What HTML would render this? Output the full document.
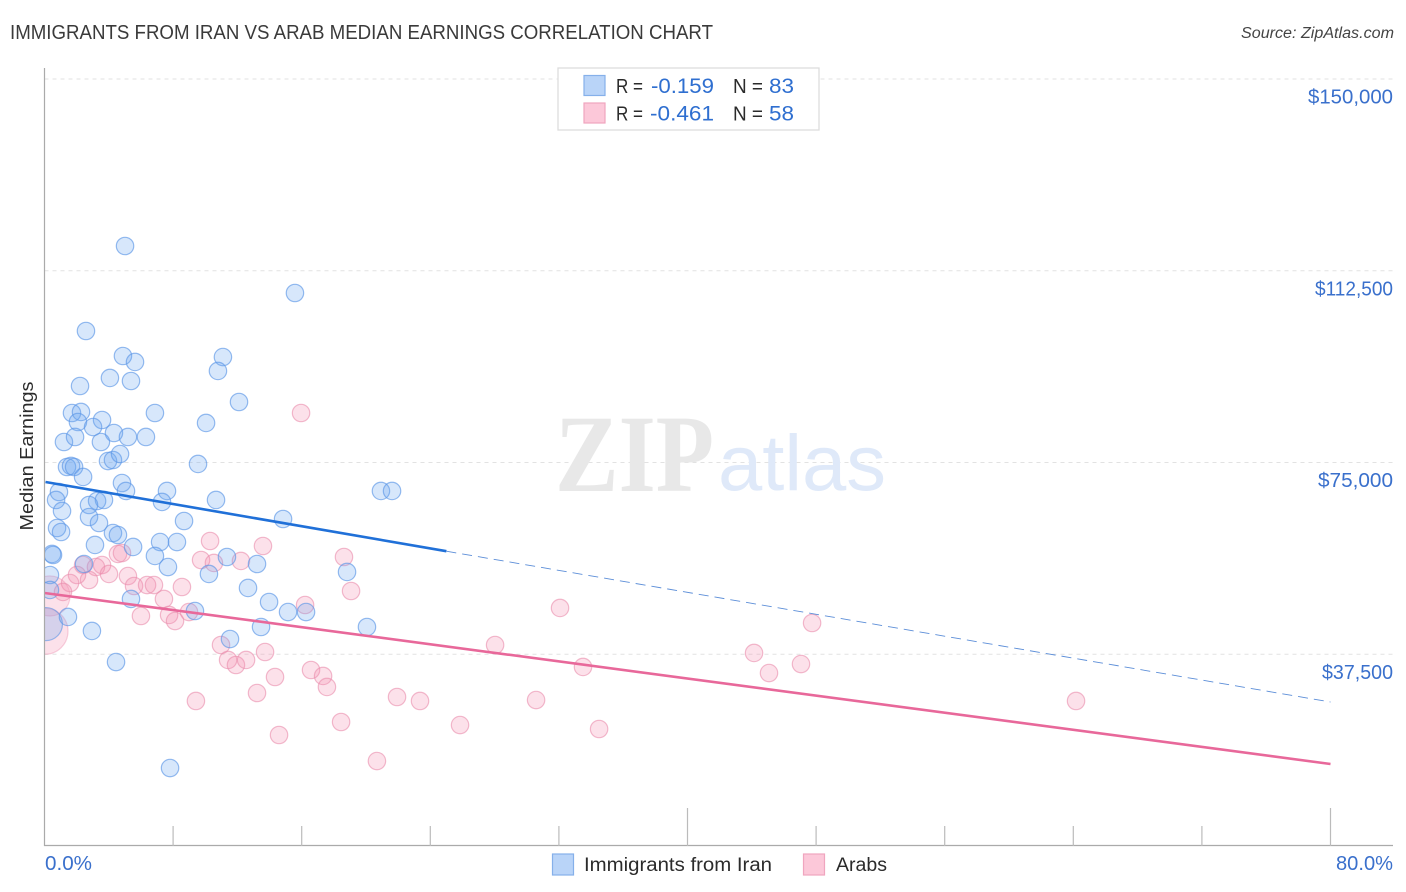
<!DOCTYPE html>
<html lang="en">
<head>
<meta charset="utf-8">
<title>Immigrants from Iran vs Arab Median Earnings Correlation Chart</title>
<style>
html,body{margin:0;padding:0;background:#fff;}
body{width:1406px;height:892px;overflow:hidden;}
svg{display:block;font-family:"Liberation Sans",sans-serif;}
</style>
</head>
<body>
<svg id="chart" xmlns="http://www.w3.org/2000/svg" width="1406" height="892" viewBox="0 0 1406 892">
  <defs>
    <clipPath id="plot-clip"><rect x="45" y="60" width="1350" height="786"/></clipPath>
  </defs>
  <rect width="1406" height="892" fill="#fff"/>
  <text x="10" y="39" font-size="20" fill="#3a3a3a" textLength="703" lengthAdjust="spacingAndGlyphs">IMMIGRANTS FROM IRAN VS ARAB MEDIAN EARNINGS CORRELATION CHART</text>
  <text x="1241" y="38" font-size="15.5" font-style="italic" fill="#444" textLength="153" lengthAdjust="spacingAndGlyphs">Source: ZipAtlas.com</text>

  <g id="grid"></g>

  <g>
    <text x="555" y="491" font-family="'Liberation Serif',serif" font-weight="bold" font-size="110" fill="#e8e8e8" textLength="159" lengthAdjust="spacingAndGlyphs">ZIP</text>
    <text x="718" y="490" font-size="79" fill="#dfe9f9" textLength="168" lengthAdjust="spacingAndGlyphs">atlas</text>
  </g>

  <g id="arab-points" clip-path="url(#plot-clip)"></g>
  <g id="iran-points" clip-path="url(#plot-clip)"></g>
  <g id="trends"></g>

  <rect x="0" y="60" width="44" height="790" fill="#fff"/>

  <g id="axes">
    <line x1="44.5" y1="68" x2="44.5" y2="846" stroke="#aaa" stroke-width="1.2"/>
    <line x1="44" y1="845.5" x2="1393" y2="845.5" stroke="#aaa" stroke-width="1.2"/>
  </g>
  <g id="y-labels"></g>
  <g id="x-labels"></g>

  <text transform="translate(33,456) rotate(-90)" font-size="18" fill="#2b2b2b" text-anchor="middle" textLength="149" lengthAdjust="spacingAndGlyphs">Median Earnings</text>

  <g>
    <rect x="558" y="68" width="261" height="62" fill="#fff" stroke="#ddd" stroke-width="1.3"/>
    <rect x="584" y="75.5" width="21" height="20" fill="#b9d4f8" stroke="#85b0ea" stroke-width="1.2"/>
    <rect x="584" y="103" width="21" height="20" fill="#fcc8d9" stroke="#f0a5bf" stroke-width="1.2"/>
    <text x="616" y="93" font-size="20" fill="#2b2b2b" textLength="27" lengthAdjust="spacingAndGlyphs">R =</text>
    <text x="651" y="93" font-size="21" fill="#2f6fd0" textLength="63" lengthAdjust="spacingAndGlyphs">-0.159</text>
    <text x="733" y="93" font-size="20" fill="#2b2b2b" textLength="30" lengthAdjust="spacingAndGlyphs">N =</text>
    <text x="769" y="93" font-size="21" fill="#2f6fd0" textLength="25" lengthAdjust="spacingAndGlyphs">83</text>
    <text x="616" y="120.5" font-size="20" fill="#2b2b2b" textLength="27" lengthAdjust="spacingAndGlyphs">R =</text>
    <text x="650" y="120.5" font-size="21" fill="#2f6fd0" textLength="64" lengthAdjust="spacingAndGlyphs">-0.461</text>
    <text x="733" y="120.5" font-size="20" fill="#2b2b2b" textLength="30" lengthAdjust="spacingAndGlyphs">N =</text>
    <text x="769" y="120.5" font-size="21" fill="#2f6fd0" textLength="25" lengthAdjust="spacingAndGlyphs">58</text>
  </g>

  <g>
    <rect x="552.5" y="854" width="21" height="21" fill="#b9d4f8" stroke="#85b0ea" stroke-width="1.2"/>
    <text x="584" y="871" font-size="19" fill="#2b2b2b" textLength="188" lengthAdjust="spacingAndGlyphs">Immigrants from Iran</text>
    <rect x="803.5" y="854" width="21" height="21" fill="#fcc8d9" stroke="#f0a5bf" stroke-width="1.2"/>
    <text x="836" y="871" font-size="19" fill="#2b2b2b" textLength="51" lengthAdjust="spacingAndGlyphs">Arabs</text>
  </g>
</svg>
<script>
// ---- Data ----
const yTickValues = [37500, 75000, 112500, 150000];
const yTickLabels = ["$37,500", "$75,000", "$112,500", "$150,000"];
const xTickValues = [8, 16, 24, 32, 40, 48, 56, 64, 72, 80];
const xMajorTicks = [40, 80];
const xEndValues = [0, 80];
const xEndLabels = ["0.0%", "80.0%"];

const iranPct = [5.01,15.58,2.58,4.88,5.63,11.10,10.79,2.21,4.07,5.38,12.10,6.87,1.71,2.27,3.58,2.08,3.02,4.32,10.05,1.21,1.90,3.51,5.19,6.31,1.40,1.65,1.84,3.95,4.26,4.70,9.55,2.40,4.82,5.07,0.90,7.62,0.72,3.27,3.70,7.31,10.67,20.93,21.62,1.09,2.77,2.77,14.84,3.39,8.68,0.78,1.03,4.26,4.57,3.14,5.51,7.19,8.24,0.47,0.53,6.87,11.35,13.22,2.46,7.68,10.23,18.82,0.34,0.34,12.66,5.38,13.97,9.36,15.15,16.27,1.46,2.95,13.47,20.06,11.54,4.45,7.81];
const iranEarnings = [117340,108150,100720,95830,94660,95630,92900,89960,91530,90940,86830,84680,84680,84880,83310,82920,81940,80770,82730,79010,79990,79010,79990,79990,74120,74320,74120,75290,75490,76660,74710,72170,70990,69430,69230,69430,67670,67470,67670,67280,67670,69430,69430,65520,66690,64340,63950,63170,63560,62190,61410,61210,60820,58870,58480,59450,59450,57110,56910,56720,56520,55150,55150,54560,53200,53590,53000,50070,50460,48310,47720,45960,45760,45760,44790,42050,42830,42830,40480,35980,15250];
const iranClusterPct = [0.09];
const iranClusterEarnings = [43400];
const iranClusterWeight = [3.6];

const arabPct = [10.30,13.59,9.74,10.54,12.22,8.55,7.43,7.75,8.12,8.99,16.21,18.63,19.07,10.98,11.42,11.91,12.54,13.72,14.34,13.22,16.58,17.33,17.57,9.42,18.45,14.59,20.68,32.07,28.03,33.50,21.93,23.36,30.58,25.85,34.50,15.96,44.14,45.07,47.06,47.75,64.17,4.57,4.82,3.58,3.20,2.40,4.01,2.77,2.02,1.59,1.15,5.19,5.57,6.38,6.81,6.00];
const arabEarnings = [59650,58670,55930,55350,55740,50650,48310,45180,44000,45760,47130,56520,49870,39310,36380,35400,36380,37940,33050,29920,34420,33250,31100,28360,24250,21710,16620,46550,39310,35010,29140,28360,28550,23660,22880,84680,37750,33830,35590,43610,28360,57110,57300,54950,54560,54950,53200,52020,53000,51430,49680,52800,50850,51040,51040,44980];
const arabClusterPct = [0.34, 0.03];
const arabClusterEarnings = [48900, 42000];
const arabClusterWeight = [5.3, 7];

const iranTrendPct = [0, 25, 80];
const iranTrendEarnings = [71190, 57650, 28160];
const arabTrendPct = [0, 80];
const arabTrendEarnings = [49480, 16040];

// ---- Axis functions ----
const SVG_NS = "http://www.w3.org/2000/svg";
const xScale = function (pct) { return 44.5 + pct * 16.075; };
const yScale = function (val) { return 846 - val * 0.0051133; };
const BASE_R = 8.7;
const yLabelFit = {"$37,500": 71, "$75,000": 75, "$112,500": 78, "$150,000": 85};
const xLabelFit = {"0.0%": 47, "80.0%": 57};

function make(tag, attrs, parent) {
  const el = document.createElementNS(SVG_NS, tag);
  for (const k in attrs) el.setAttribute(k, attrs[k]);
  parent.appendChild(el);
  return el;
}

// ---- Grid & ticks ----
const gridG = document.getElementById("grid");
const yLabG = document.getElementById("y-labels");
yTickValues.concat().forEach(function (v, i) {
  const y = yScale(v);
  const ln = make("line", {x1: 44.5, x2: 1393, y1: y, y2: y, stroke: "#e2e2e2", "stroke-width": 1, "stroke-dasharray": "4 4"}, gridG);
  
  
  const label = yTickLabels[i];
  const t = make("text", {x: 1393, y: y + 24.5, "font-size": 20, fill: "#3a70cc", "text-anchor": "end", textLength: yLabelFit[label] || 80, lengthAdjust: "spacingAndGlyphs"}, yLabG);
  t.textContent = label;
  
  
});

const axesG = document.getElementById("axes");
xTickValues.forEach(function (v) {
  const x = xScale(v);
  const top = xMajorTicks.indexOf(v) >= 0 ? 808 : 826;
  const tk = make("line", {x1: x, x2: x, y1: top, y2: 846, stroke: "#bbb", "stroke-width": 1.2}, axesG);
  
  
});

const xLabG = document.getElementById("x-labels");
xEndValues.forEach(function (v, i) {
  const first = i === 0;
  const label = xEndLabels[i];
  const t = make("text", {x: first ? xScale(v) + 0.5 : 1393, y: 870, "font-size": 20, fill: "#3a70cc", "text-anchor": first ? "start" : "end", textLength: xLabelFit[label] || 50, lengthAdjust: "spacingAndGlyphs"}, xLabG);
  t.textContent = label;
  
  
});

// ---- Points ----
function drawPoints(group, xs, ys, weights, fill, stroke, strokeOpacity, name) {
  xs.forEach(function (p, i) {
    const w = weights ? weights[i] : 1;
    const c = make("circle", {
      cx: xScale(p), cy: yScale(ys[i]), r: BASE_R * Math.sqrt(w),
      fill: fill, "fill-opacity": 0.27, stroke: stroke, "stroke-opacity": strokeOpacity, "stroke-width": 1.2
    }, group);
    
    
  });
}
const arabG = document.getElementById("arab-points");
const iranG = document.getElementById("iran-points");
const PINK_FILL = "#f58fb0", PINK_STROKE = "#ea8cac";
const BLUE_FILL = "#6aa5ef", BLUE_STROKE = "#5c96e6";
drawPoints(arabG, arabClusterPct, arabClusterEarnings, arabClusterWeight, PINK_FILL, PINK_STROKE, 0.4, "arab-cluster-point");
drawPoints(arabG, arabPct, arabEarnings, null, PINK_FILL, PINK_STROKE, 0.6, "arab-point");
drawPoints(iranG, iranClusterPct, iranClusterEarnings, iranClusterWeight, BLUE_FILL, BLUE_STROKE, 0.6, "iran-cluster-point");
drawPoints(iranG, iranPct, iranEarnings, null, BLUE_FILL, BLUE_STROKE, 0.65, "iran-point");

// ---- Trend lines ----
const trendG = document.getElementById("trends");
const iranSolid = make("line", {
  x1: xScale(iranTrendPct[0]) + 1, y1: yScale(iranTrendEarnings[0]),
  x2: xScale(iranTrendPct[1]), y2: yScale(iranTrendEarnings[1]),
  stroke: "#2070d8", "stroke-width": 2.6
}, trendG);


const iranDash = make("line", {
  x1: xScale(iranTrendPct[1]), y1: yScale(iranTrendEarnings[1]),
  x2: xScale(iranTrendPct[2]), y2: yScale(iranTrendEarnings[2]),
  stroke: "#5c8ed8", "stroke-width": 0.9, "stroke-dasharray": "10 6"
}, trendG);


const arabSolid = make("line", {
  x1: xScale(arabTrendPct[0]), y1: yScale(arabTrendEarnings[0]),
  x2: xScale(arabTrendPct[1]), y2: yScale(arabTrendEarnings[1]),
  stroke: "#e8689a", "stroke-width": 2.6
}, trendG);


</script>
</body>
</html>
